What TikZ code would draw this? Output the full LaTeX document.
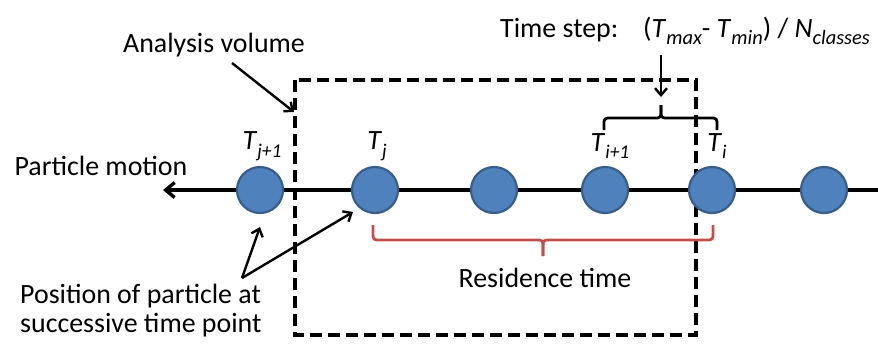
\documentclass[tikz,border=0pt]{standalone}
\usepackage{fontspec}
\setmainfont{Carlito}
\usetikzlibrary{arrows.meta}

\definecolor{dotfill}{HTML}{4F81BD}
\definecolor{dotedge}{HTML}{385D8A}
\definecolor{bracered}{HTML}{C0504D}

% italic letter with a lowered, smaller subscript
\newcommand\varsub[3][19.5]{\textit{#2}\raisebox{-0.28em}{\fontsize{#1}{22}\selectfont\itshape #3}}

\tikzset{
  every node/.style={font=\fontsize{28}{32}\selectfont, inner sep=0pt},
  dot/.style={circle, minimum size=46bp, fill=dotfill, draw=dotedge, line width=2.2bp},
  txt/.style={anchor=center},
  pointer/.style={-{Straight Barb[length=7bp,width=12bp,line width=2.4bp]}, line width=2.4bp},
  volume/.style={dash pattern=on 12bp off 6bp, line width=3.1bp},
  motion/.style={-{Straight Barb[length=9bp,width=15bp,line width=3.4bp]}, line width=3.4bp},
  bracket/.style={rounded corners=3.5bp, line width=2.8bp},
}

\begin{document}
\begin{tikzpicture}[x=1bp, y=-1bp]
  \useasboundingbox (0,0) rectangle (878,345);

  % analysis volume (dashed box)
  \draw[volume] (295,80) rectangle (696,335);

  % motion axis
  \coordinate (axisR) at (878,190);
  \coordinate (axisL) at (163,190);
  \draw[motion] (axisR) -- (axisL);

  % particle positions
  \foreach \n/\x in {1/260, 2/375, 3/494, 4/605, 5/712, 6/824}
    \node[dot] (p\n) at (\x,190) {};

  % time labels
  \node[txt] (tj1) at (262,146) {\varsub{T}{j+1}};
  \node[txt] (tj)  at (377,146) {\varsub{T}{j}};
  \node[txt] (ti1) at (610,146) {\varsub{T}{i+1}};
  \node[txt] (ti)  at (717,146) {\varsub{T}{i}};

  % text labels
  \node[txt] (motionlbl) at (101,166) {Particle motion};
  \node[txt] (volumelbl) at (214,45) {Analysis volume};
  \node[anchor=base west] (steplbl) at (500,37) {Time step:};
  \node[anchor=base west] (stepformula) at (643,37)
    {(\varsub[20.5]{T}{max}- \varsub[20.5]{T}{min}) / \varsub[20.5]{N}{classes}};
  \node[txt] (residlbl) at (545,278) {Residence time};
  \node[anchor=north west, align=left] (poslbl) at (20,284)
    {Position of particle at\\[-3bp]successive time point};

  % time step bracket and arrow
  \coordinate (stepL) at (604,130);
  \coordinate (stepR) at (717,130);
  \coordinate (stepMid) at (661,118);
  \coordinate (stepTip) at (661,105);
  \draw[bracket] (stepL) |- (stepMid) -- (stepTip);
  \draw[bracket] (stepR) |- (stepMid) -- (stepTip);
  \coordinate (stepTop) at (661,55);
  \coordinate (stepEnd) at (661,97);
  \draw[pointer] (stepTop) -- (stepEnd);

  % residence time bracket
  \coordinate (resL) at (373,225);
  \coordinate (resR) at (713,225);
  \coordinate (resMid) at (543,240);
  \coordinate (resTip) at (543,256);
  \draw[bracket, bracered] (resL) |- (resMid) -- (resTip);
  \draw[bracket, bracered] (resR) |- (resMid) -- (resTip);

  % pointer to the analysis volume
  \coordinate (volFrom) at (232,63);
  \coordinate (volTo) at (294,112);
  \draw[pointer] (volFrom) -- (volTo);

  % pointers to particle positions
  \coordinate (posFrom) at (242,278);
  \coordinate (posTo1) at (260,227);
  \coordinate (posTo2) at (353,212);
  \draw[pointer] (posFrom) -- (posTo1);
  \draw[pointer] (posFrom) -- (posTo2);
\end{tikzpicture}
\end{document}
